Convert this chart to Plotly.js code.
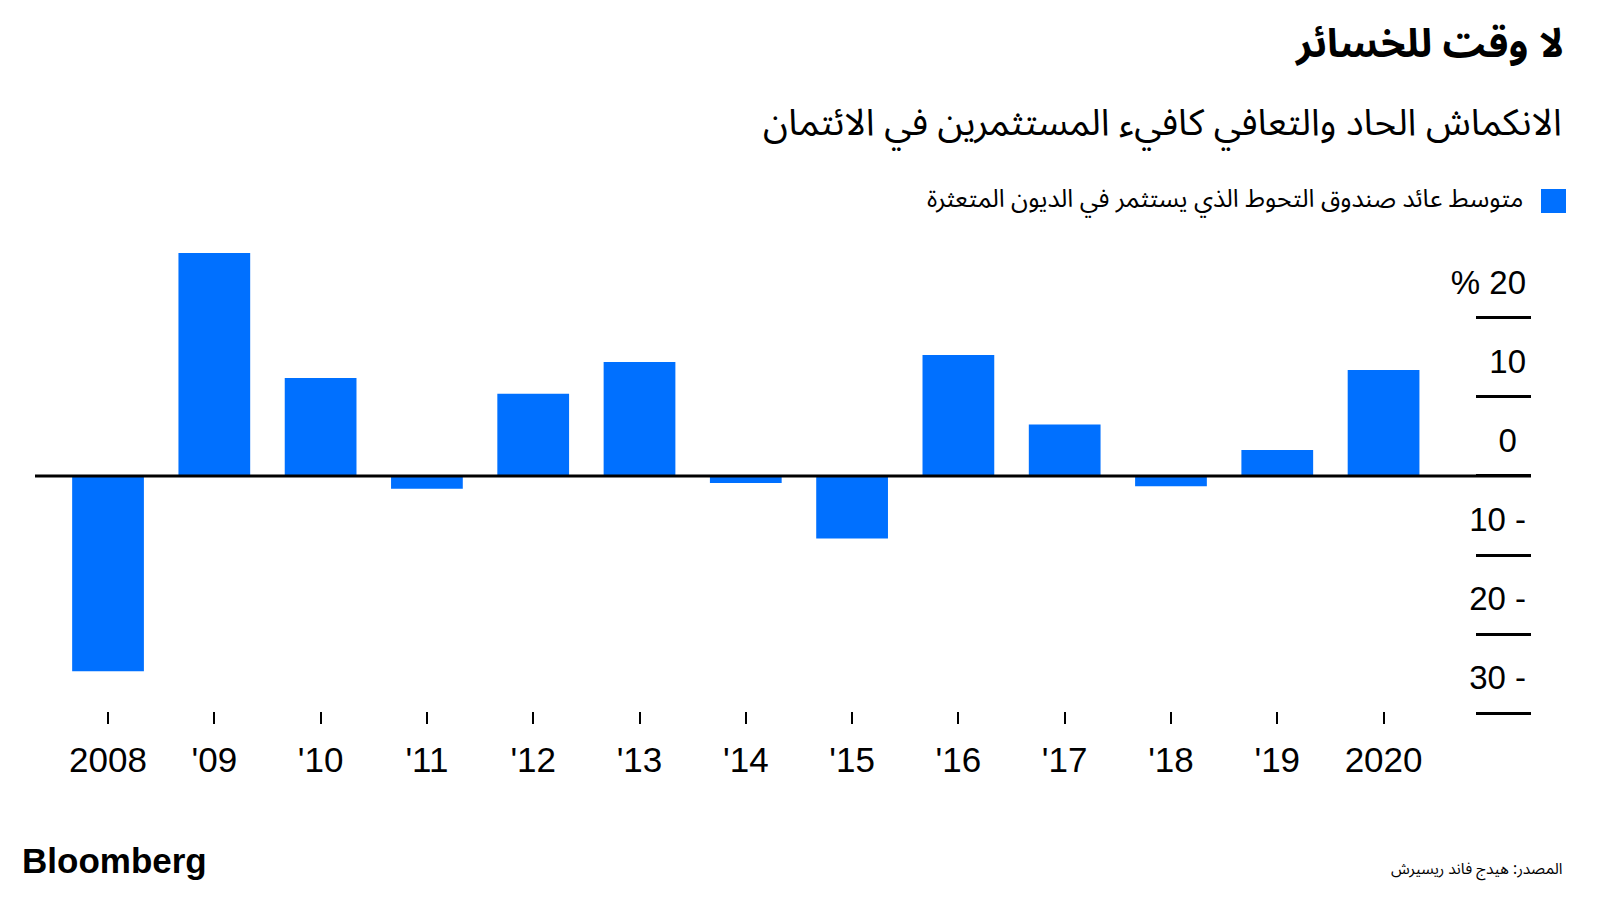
<!DOCTYPE html>
<html>
<head>
<meta charset="utf-8">
<script src="https://cdn.plot.ly/plotly-3.0.1.min.js"></script>
<style>
  html, body { margin: 0; padding: 0; background: #ffffff; }
  #chart { width: 1600px; height: 900px; }
</style>
</head>
<body>
<div id="chart"></div>
<script>
// Data (annual return, %)
const years = [2008, 2009, 2010, 2011, 2012, 2013, 2014, 2015, 2016, 2017, 2018, 2019, 2020];
const yearLabels = ["2008", "'09", "'10", "'11", "'12", "'13", "'14", "'15", "'16", "'17", "'18", "'19", "2020"];
const returns = [-24.7, 28.2, 12.4, -1.6, 10.4, 14.4, -0.9, -7.9, 15.3, 6.5, -1.3, 3.3, 13.4];

const yTickVals = [20, 10, 0, -10, -20, -30];
const yTickText = ["% 20", "10", "0\u00a0", "10 -", "20 -", "30 -"];

const titleText = "لا وقت للخسائر";
const subtitleText = "الانكماش الحاد والتعافي كافيء المستثمرين في الائتمان";
const legendText = "متوسط عائد صندوق التحوط الذي يستثمر في الديون المتعثرة";
const sourceText = "المصدر: هيدج فاند ريسيرش";

const BLUE = "#0070ff";
const ARABIC = "'Noto Sans Arabic', 'DejaVu Sans', sans-serif";
const LATIN = "'Liberation Sans', Arial, sans-serif";

const trace = {
  type: "bar",
  x: years,
  y: returns,
  marker: { color: BLUE, line: { width: 0 } },
  hoverinfo: "x+y",
};

const layout = {
  width: 1600,
  height: 900,
  margin: { l: 35, r: 69, t: 230, b: 160 },
  showlegend: false,
  bargap: 0.325,
  plot_bgcolor: "#ffffff",
  paper_bgcolor: "#ffffff",
  font: { family: LATIN, color: "#000000", size: 33 },

  title: {
    text: "<b>" + titleText + "</b>",
    xref: "container",
    yref: "container",
    x: 0.9775,
    y: 0.952,
    xanchor: "right",
    yanchor: "middle",
    font: { family: ARABIC, size: 40, color: "#000000" },
  },

  xaxis: {
    range: [years[0] - 0.687, years[0] + 13.387],
    tickvals: years,
    ticktext: yearLabels,
    anchor: "free",
    position: 0.0569,
    ticks: "outside",
    ticklen: 12,
    tickwidth: 2,
    tickcolor: "#000000",
    ticklabelstandoff: 6,
    showgrid: false,
    zeroline: false,
    showline: false,
    tickfont: { family: LATIN, size: 35, color: "#000000" },
    fixedrange: true,
  },

  yaxis: {
    range: [-33.38, 31.1],
    side: "right",
    tickvals: yTickVals,
    ticktext: yTickText,
    ticks: "inside",
    ticklen: 55,
    tickwidth: 2.5,
    tickcolor: "#000000",
    ticklabelposition: "inside top",
    ticklabelstandoff: 2,
    ticklabelshift: -11,
    showgrid: false,
    zeroline: false,
    showline: false,
    tickfont: { family: LATIN, size: 33, color: "#000000" },
    fixedrange: true,
  },

  shapes: [
    // zero baseline across the whole plot
    {
      type: "line",
      xref: "paper",
      yref: "y",
      x0: 0,
      x1: 1,
      y0: 0,
      y1: 0,
      layer: "above",
      line: { color: "#000000", width: 3 },
    },
    // legend swatch
    {
      type: "rect",
      xref: "paper",
      yref: "paper",
      x0: 1.0067,
      x1: 1.0234,
      y0: 1.0333,
      y1: 1.0804,
      fillcolor: BLUE,
      line: { width: 0 },
    },
  ],

  annotations: [
    {
      xref: "paper",
      yref: "paper",
      x: 1.022,
      y: 1.2098,
      xanchor: "right",
      yanchor: "middle",
      text: subtitleText,
      showarrow: false,
      font: { family: ARABIC, size: 37, color: "#000000" },
    },
    {
      xref: "paper",
      yref: "paper",
      x: 0.996,
      y: 1.0608,
      xanchor: "right",
      yanchor: "middle",
      text: legendText,
      showarrow: false,
      font: { family: ARABIC, size: 25, color: "#000000" },
    },
    {
      xref: "paper",
      yref: "paper",
      x: 1.022,
      y: -0.2529,
      xanchor: "right",
      yanchor: "middle",
      text: sourceText,
      showarrow: false,
      font: { family: ARABIC, size: 15.5, color: "#000000" },
    },
    {
      xref: "paper",
      yref: "paper",
      x: -0.01,
      y: -0.2353,
      xanchor: "left",
      yanchor: "middle",
      text: "<b>Bloomberg</b>",
      showarrow: false,
      font: { family: LATIN, size: 35, color: "#000000" },
    },
  ],
};

Plotly.newPlot("chart", [trace], layout, {
  displayModeBar: false,
});
</script>
</body>
</html>
